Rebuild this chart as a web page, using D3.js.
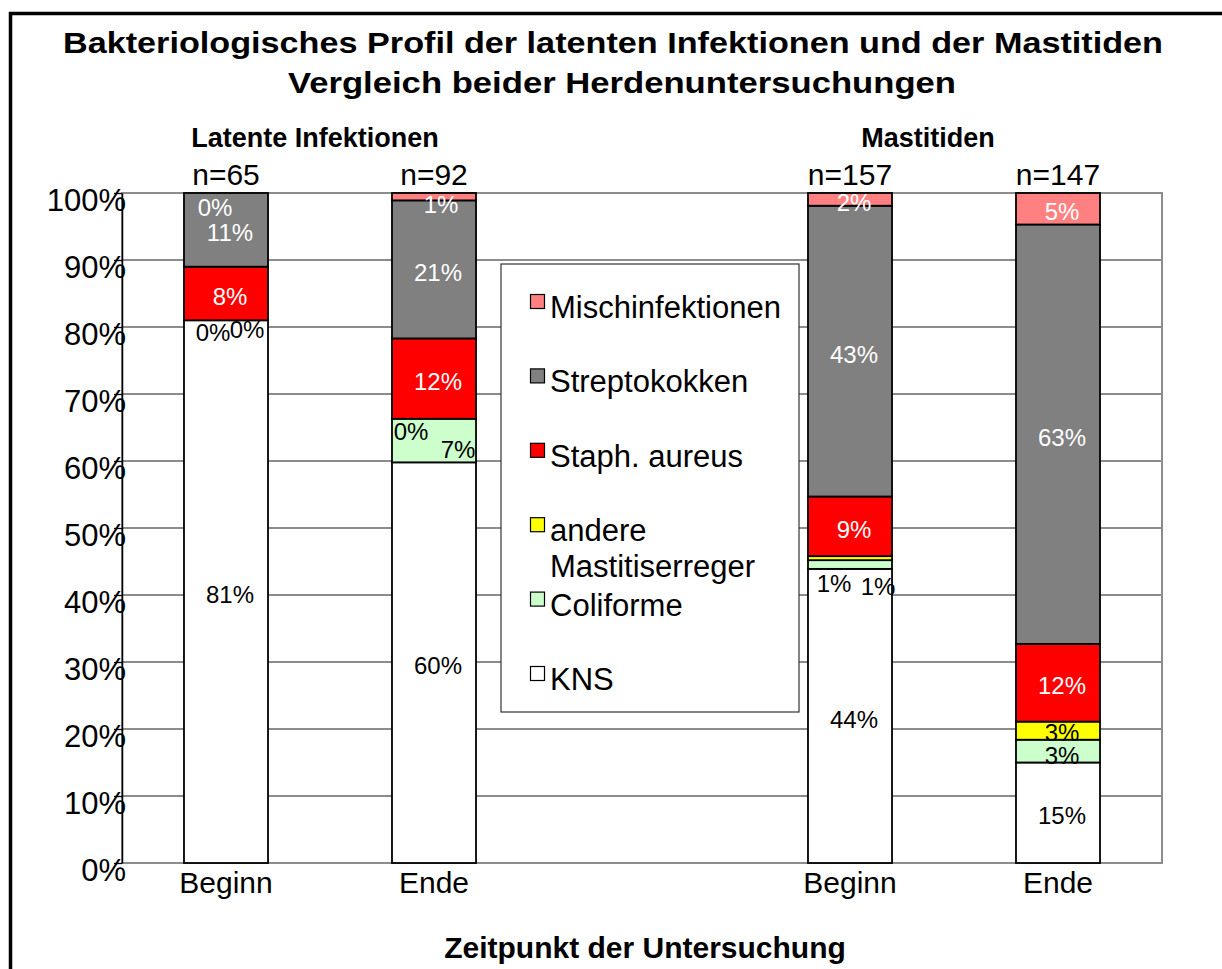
<!DOCTYPE html>
<html lang="de">
<head>
    <meta charset="UTF-8">
    <title>Bakteriologisches Profil</title>
    <style>
        body { margin: 0; background: #fff; }
        svg text { font-family: "Liberation Sans", Arial, sans-serif; }
    </style>
</head>
<body>
    <div id="chart"></div>

    <script src="https://d3js.org/d3.v7.min.js"></script>
    <script>
        // categories on the x axis (the empty one in the middle keeps the gap for the legend)
        const timepoints = ["Beginn", "Ende", "", "Beginn", "Ende"];
        const sampleSizes = ["n=65", "n=92", "", "n=157", "n=147"];
        const groups = ["Latente Infektionen", "Mastitiden"];

        // series, bottom to top of each stack (percent)
        const seriesNames = ["KNS", "Coliforme", "andere Mastitiserreger", "Staph. aureus", "Streptokokken", "Mischinfektionen"];
        const kns        = [81.0, 59.8, null, 43.9, 15.0];
        const coliforme  = [0.0, 6.5, null, 1.3, 3.4];
        const andere     = [0.0, 0.0, null, 0.6, 2.7];
        const staph      = [8.0, 12.0, null, 8.9, 11.6];
        const strepto    = [11.0, 20.6, null, 43.4, 62.6];
        const misch      = [0.0, 1.1, null, 1.9, 4.7];

        const yTicks = [0, 10, 20, 30, 40, 50, 60, 70, 80, 90, 100];

        const seriesValues = [kns, coliforme, andere, staph, strepto, misch];
        const colors = ["#FFFFFF", "#CCFFCC", "#FFFF00", "#FF0000", "#808080", "#FF8080"];
        const labelColors = ["#000", "#000", "#000", "#fff", "#fff", "#fff"];

        const width = 1222, height = 969;
        const plot = { left: 122, right: 1162, top: 193, bottom: 863 };

        const svg = d3.select("#chart")
            .append("svg")
                .attr("width", width)
                .attr("height", height);

        // outer frame (only top and left visible)
        svg.append("rect")
            .attr("x", 10.5).attr("y", 13.5)
            .attr("width", 1300).attr("height", 1000)
            .attr("fill", "#fff")
            .attr("stroke", "#000")
            .attr("stroke-width", 3.5);

        // titles (the original is set wider than the plain font)
        svg.append("text")
            .attr("x", 613).attr("y", 53)
            .attr("text-anchor", "middle")
            .attr("textLength", 1100)
            .attr("lengthAdjust", "spacingAndGlyphs")
            .style("font-size", "30px").style("font-weight", "bold")
            .text("Bakteriologisches Profil der latenten Infektionen und der Mastitiden");
        svg.append("text")
            .attr("x", 622).attr("y", 93)
            .attr("text-anchor", "middle")
            .attr("textLength", 668)
            .attr("lengthAdjust", "spacingAndGlyphs")
            .style("font-size", "30px").style("font-weight", "bold")
            .text("Vergleich beider Herdenuntersuchungen");

        const x = d3.scaleBand()
            .domain(d3.range(timepoints.length))
            .range([plot.left, plot.right])
            .paddingInner(0.596)
            .paddingOuter(0.298);

        const y = d3.scaleLinear()
            .domain([0, 100])
            .range([plot.bottom, plot.top]);

        // stacked data table
        const table = timepoints.map((t, i) => {
            const row = { idx: i };
            seriesNames.forEach((s, j) => { row[s] = seriesValues[j][i] || 0; });
            return row;
        }).filter((r, i) => kns[i] !== null);

        const stacked = d3.stack().keys(seriesNames)(table);

        // gridlines
        svg.append("g")
            .selectAll("line")
            .data(yTicks.filter(d => d > 0 && d < 100))
            .enter()
            .append("line")
            .attr("x1", plot.left).attr("x2", plot.right)
            .attr("y1", d => y(d)).attr("y2", d => y(d))
            .attr("stroke", "#1a1a1a")
            .attr("stroke-width", 1.2);

        // plot area border (grey)
        svg.append("rect")
            .attr("x", plot.left).attr("y", plot.top)
            .attr("width", plot.right - plot.left)
            .attr("height", plot.bottom - plot.top)
            .attr("fill", "none")
            .attr("stroke", "#8c8c8c")
            .attr("stroke-width", 2);

        // bars
        svg.append("g")
            .selectAll("g")
            .data(stacked)
            .enter()
            .append("g")
                .attr("fill", (d, i) => colors[i])
            .selectAll("rect")
            .data(d => d)
            .enter()
            .append("rect")
            .attr("x", d => x(d.data.idx))
            .attr("width", x.bandwidth())
            .attr("y", d => y(d[1]))
            .attr("height", d => y(d[0]) - y(d[1]))
            .attr("stroke", "#000")
            .attr("stroke-width", 1.8);

        // legend box sits over the empty category
        const legend = svg.append("g");
        legend.append("rect")
            .attr("x", 501).attr("y", 264)
            .attr("width", 298).attr("height", 448)
            .attr("fill", "#fff")
            .attr("stroke", "#333")
            .attr("stroke-width", 1.2);

        const legendItems = seriesNames.map((s, i) => ({ name: s, color: colors[i] })).reverse();
        legendItems.forEach((item, k) => {
            const base = 318 + k * 74.4;
            legend.append("rect")
                .attr("x", 530.5).attr("y", base - 23.5)
                .attr("width", 14).attr("height", 14)
                .attr("fill", item.color)
                .attr("stroke", "#000")
                .attr("stroke-width", 1.2);
            const t = legend.append("text")
                .attr("x", 550).attr("y", base)
                .style("font-size", "31px");
            if (item.name === "andere Mastitiserreger") {
                t.append("tspan").attr("x", 550).text("andere");
                t.append("tspan").attr("x", 550).attr("dy", 36).text("Mastitiserreger");
            } else {
                t.text(item.name);
            }
        });

        // y axis
        const yAxis = svg.append("g")
            .attr("transform", `translate(${plot.left},0)`)
            .call(d3.axisLeft(y).tickValues(yTicks).tickFormat(d => d + "%").tickSize(8).tickSizeOuter(0));
        yAxis.select(".domain").attr("stroke", "#000").attr("stroke-width", 1.5);
        yAxis.selectAll(".tick line").attr("stroke", "#000").attr("stroke-width", 1.3);
        yAxis.selectAll(".tick text")
            .attr("x", 4).attr("dy", null).attr("y", 17)
            .attr("fill", "#000")
            .style("font-size", "31px")
            .style("font-family", "'Liberation Sans', Arial, sans-serif");

        // x axis labels
        const xAxis = svg.append("g")
            .attr("transform", `translate(0,${plot.bottom})`)
            .call(d3.axisBottom(x).tickFormat(i => timepoints[i]).tickSize(0));
        xAxis.select(".domain").remove();
        xAxis.selectAll(".tick text")
            .attr("y", 30).attr("dy", null)
            .attr("fill", "#000")
            .style("font-size", "30px")
            .style("font-family", "'Liberation Sans', Arial, sans-serif");

        // sample sizes above the bars
        svg.append("g")
            .selectAll("text")
            .data(sampleSizes)
            .enter()
            .append("text")
            .attr("x", (d, i) => x(i) + x.bandwidth() / 2)
            .attr("y", 185)
            .attr("text-anchor", "middle")
            .style("font-size", "30px")
            .text(d => d);

        // group headings
        const groupCenters = [
            (x(0) + x(1)) / 2 + x.bandwidth() / 2 - 15,
            (x(3) + x(4)) / 2 + x.bandwidth() / 2 - 26
        ];
        svg.append("g")
            .selectAll("text")
            .data(groups)
            .enter()
            .append("text")
            .attr("x", (d, i) => groupCenters[i])
            .attr("y", 147)
            .attr("text-anchor", "middle")
            .style("font-size", "27px")
            .style("font-weight", "bold")
            .text(d => d);

        // value labels; small nudges where Excel pushed overlapping labels aside
        const nudge = {
            "0|Mischinfektionen": [-15, 11],
            "0|Coliforme": [-17, 9],
            "0|andere Mastitiserreger": [17, 6],
            "1|Mischinfektionen": [3, 5],
            "1|andere Mastitiserreger": [-27, 10],
            "1|Coliforme": [20, 6],
            "3|Coliforme": [-20, 16],
            "3|andere Mastitiserreger": [24, 25],
            "4|andere Mastitiserreger": [0, -1],
            "4|Coliforme": [0, 1]
        };
        const labelSize = 24;
        const labels = svg.append("g");
        stacked.forEach((layer, j) => {
            layer.forEach(d => {
                const key = d.data.idx + "|" + layer.key;
                const off = nudge[key] || [0, 0];
                const cx = x(d.data.idx) + x.bandwidth() / 2 + 4 + off[0];
                const cy = (y(d[0]) + y(d[1])) / 2 + 3 + off[1];
                labels.append("text")
                    .attr("x", cx)
                    .attr("y", cy + labelSize * 0.36)
                    .attr("text-anchor", "middle")
                    .attr("fill", labelColors[j])
                    .style("font-size", labelSize + "px")
                    .text(Math.round(d.data[layer.key]) + "%");
            });
        });

        // x axis title
        svg.append("text")
            .attr("x", (plot.left + plot.right) / 2 + 3)
            .attr("y", 958)
            .attr("text-anchor", "middle")
            .style("font-size", "30px")
            .style("font-weight", "bold")
            .text("Zeitpunkt der Untersuchung");
    </script>
</body>
</html>
